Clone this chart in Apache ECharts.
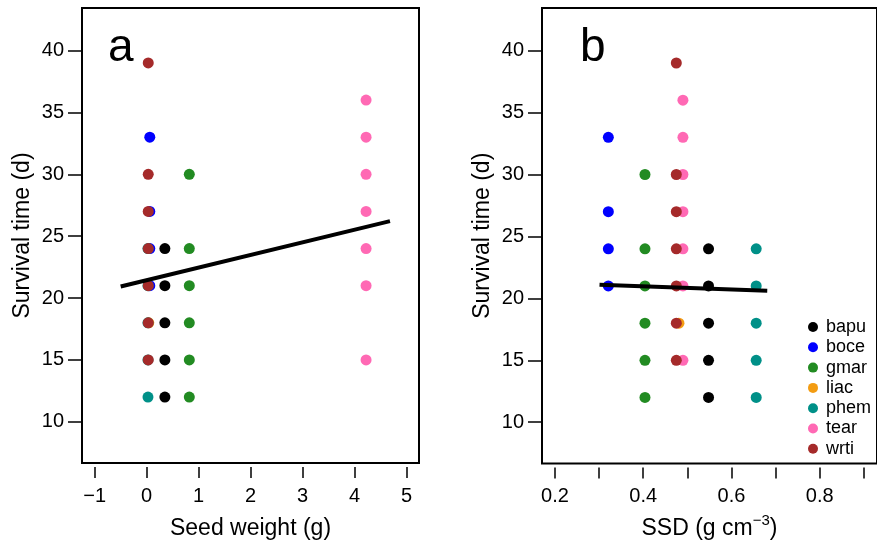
<!DOCTYPE html>
<html>
<head>
<meta charset="utf-8">
<script src="https://cdn.jsdelivr.net/npm/echarts@6/dist/echarts.min.js"></script>
<style>html,body{margin:0;padding:0;background:#fff}#c{width:877px;height:545px}</style>
</head>
<body>
<div id="c"></div>
<script>
// ---- data ----
const species = ['bapu', 'boce', 'gmar', 'liac', 'phem', 'tear', 'wrti'];
const colors = ['#000000', '#0000FF', '#228B22', '#F39C12', '#009088', '#FF69B4', '#A52A2A'];
const seedWeight = [0.35, 0.06, 0.82, 0.04, 0.025, 4.22, 0.03];
const ssd = [0.548, 0.321, 0.404, 0.481, 0.656, 0.490, 0.475];
const survival = [
  [24, 21, 18, 15, 12],
  [33, 27, 24, 21],
  [30, 24, 21, 18, 15, 12],
  [18],
  [24, 21, 18, 15, 12],
  [36, 33, 30, 27, 24, 21, 15],
  [39, 30, 27, 24, 21, 18, 15]
];
const fitA = [[-0.5, 20.93], [4.68, 26.22]];
const fitB = [[0.301, 21.09], [0.681, 20.61]];
const yTicks = [10, 15, 20, 25, 30, 35, 40];
const xTicksA = [-1, 0, 1, 2, 3, 4, 5];
const xTicksB = [0.2, 0.3, 0.4, 0.5, 0.6, 0.7, 0.8, 0.9];
const xLabelsB = [0.2, 0.4, 0.6, 0.8];

const FONT = 'Liberation Sans, Arial, sans-serif';
const chart = echarts.init(document.getElementById('c'), null, {renderer: 'canvas'});

function yAxis(gi) {
  return {
    type: 'value', gridIndex: gi, min: 6.67, max: 43.44,
    axisLine: {show: false, onZero: false}, splitLine: {show: false},
    axisTick: {show: true, customValues: yTicks, length: 14, lineStyle: {color: '#000', width: 1.5}},
    axisLabel: {customValues: yTicks, margin: 18, fontSize: 20, color: '#000', fontFamily: FONT},
    name: 'Survival time (d)', nameLocation: 'middle', nameGap: 48,
    nameTextStyle: {fontSize: 23, color: '#000', fontFamily: FONT}
  };
}

const series = [];
species.forEach((s, i) => {
  series.push({
    type: 'scatter', name: s, xAxisIndex: 0, yAxisIndex: 0,
    symbolSize: 11, itemStyle: {color: colors[i], opacity: 1},
    data: survival[i].map(v => [seedWeight[i], v]), z: 2
  });
});
species.forEach((s, i) => {
  series.push({
    type: 'scatter', name: s, xAxisIndex: 1, yAxisIndex: 1,
    symbolSize: 11, itemStyle: {color: colors[i], opacity: 1},
    data: survival[i].map(v => [ssd[i], v]), z: 2
  });
});
series.push({type: 'line', xAxisIndex: 0, yAxisIndex: 0, data: fitA, symbol: 'none',
  lineStyle: {color: '#000', width: 4}, z: 3, silent: true});
series.push({type: 'line', xAxisIndex: 1, yAxisIndex: 1, data: fitB, symbol: 'none',
  lineStyle: {color: '#000', width: 4}, z: 3, silent: true});

chart.setOption({
  animation: false,
  backgroundColor: '#fff',
  textStyle: {fontFamily: FONT},
  grid: [
    {left: 82, top: 8, width: 337, height: 456, show: true, borderColor: '#000', borderWidth: 2, backgroundColor: 'transparent'},
    {left: 542, top: 8, width: 337, height: 456, show: true, borderColor: '#000', borderWidth: 2, backgroundColor: 'transparent'}
  ],
  xAxis: [
    {type: 'value', gridIndex: 0, min: -1.244, max: 5.238, offset: 4,
     axisLine: {show: false, onZero: false}, splitLine: {show: false},
     axisTick: {show: true, customValues: xTicksA, length: 11, lineStyle: {color: '#000', width: 1.5}},
     axisLabel: {customValues: xTicksA, margin: 19, fontSize: 20, color: '#000', fontFamily: FONT,
       formatter: v => v < 0 ? '\u2212' + Math.abs(v) : String(v)},
     name: 'Seed weight (g)', nameLocation: 'middle', nameGap: 50,
     nameTextStyle: {fontSize: 23, color: '#000', fontFamily: FONT}},
    {type: 'value', gridIndex: 1, min: 0.1707, max: 0.9297, offset: 4,
     axisLine: {show: false, onZero: false}, splitLine: {show: false},
     axisTick: {show: true, customValues: xTicksB, length: 11, lineStyle: {color: '#000', width: 1.5}},
     axisLabel: {customValues: xLabelsB, margin: 19, fontSize: 20, color: '#000', fontFamily: FONT,
       formatter: v => Number(v).toFixed(1)},
     name: '{n|SSD (g cm}{sup|\u22123}{n|)}', nameLocation: 'middle', nameGap: 46,
     nameTextStyle: {fontSize: 23, color: '#000', fontFamily: FONT,
       rich: {
         n: {fontSize: 23, lineHeight: 30, color: '#000', fontFamily: FONT},
         sup: {fontSize: 15, lineHeight: 8, color: '#000', fontFamily: FONT, verticalAlign: 'top'}
       }}}
  ],
  yAxis: [yAxis(0), yAxis(1)],
  legend: {
    data: species, orient: 'vertical', left: 803, top: 312,
    icon: 'circle', itemWidth: 10, itemHeight: 10, itemGap: 0.3,
    textStyle: {fontSize: 18, lineHeight: 20, color: '#000', fontFamily: FONT, padding: [0, 0, 0, 3]},
    selectedMode: false
  },
  graphic: [
    {type: 'text', left: 108, top: 25, style: {text: 'a', fontSize: 46, fill: '#000', fontFamily: FONT}},
    {type: 'text', left: 580, top: 25, style: {text: 'b', fontSize: 46, fill: '#000', fontFamily: FONT}}
  ],
  series: series
});
</script>
</body>
</html>
